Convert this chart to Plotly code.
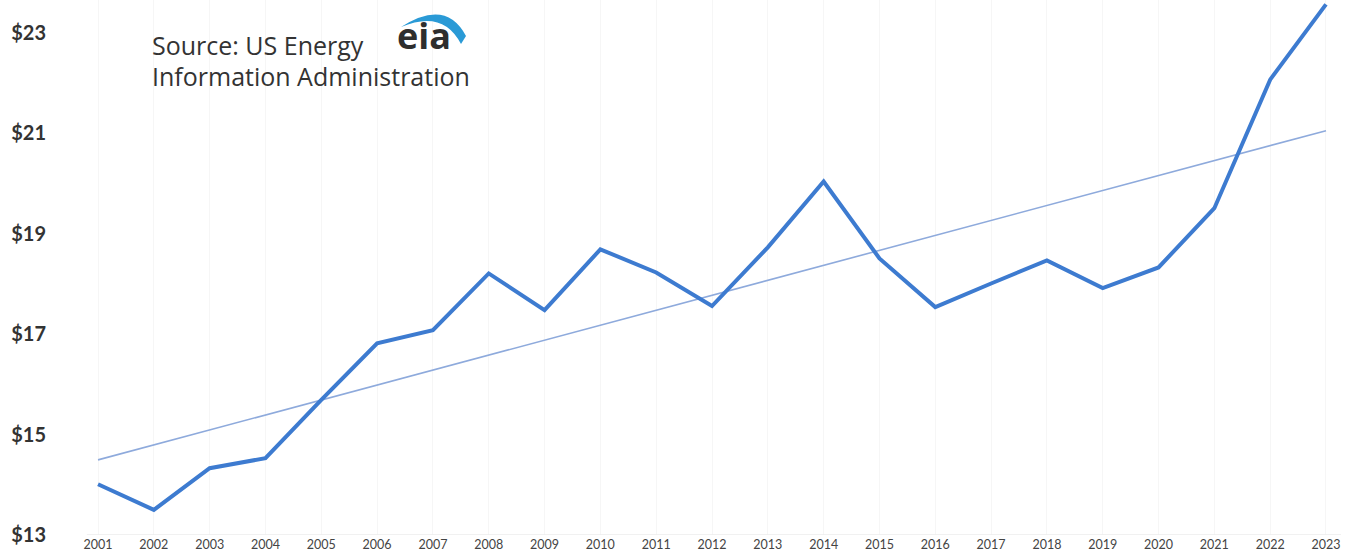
import numpy as np
import plotly.graph_objects as go

years = list(range(2001, 2024))
prices = [14.01, 13.50, 14.33, 14.53, 15.69, 16.82, 17.08, 18.21, 17.48, 18.69,
          18.23, 17.56, 18.73, 20.04, 18.51, 17.54, 18.01, 18.47, 17.92, 18.33,
          19.51, 22.07, 23.57]
ytick_vals = [13, 15, 17, 19, 21, 23]
ytick_text = ["$13", "$15", "$17", "$19", "$21", "$23"]

# linear trend line (least squares fit of the series)
coef = np.polyfit(years, prices, 1)
trend = [coef[0] * y + coef[1] for y in years]

W, H = 1361, 560
ML, MR, MT, MB = 70, 20, 0, 25
pw = W - ML - MR
ph = H - MT - MB

def px(x):
    return (x - ML) / pw

def py(y):
    return 1 - (y - MT) / ph

fig = go.Figure()
fig.add_trace(go.Scatter(x=years, y=trend, mode="lines",
                         line=dict(color="#8eaadc", width=1.6),
                         hoverinfo="skip", showlegend=False))
fig.add_trace(go.Scatter(x=years, y=prices, mode="lines",
                         line=dict(color="#3d7bd0", width=4),
                         showlegend=False, cliponaxis=False))

fig.update_layout(
    width=W, height=H,
    margin=dict(l=ML, r=MR, t=MT, b=MB, autoexpand=False),
    paper_bgcolor="white", plot_bgcolor="white",
    xaxis=dict(range=[2000.498, 2023.269], tickmode="array", tickvals=years,
               ticktext=[str(y) for y in years], showgrid=True,
               gridcolor="#f6f6f6", gridwidth=1, zeroline=False,
               showline=False, ticks="", automargin=False,
               tickfont=dict(family="Lato", size=12.5, color="#444444")),
    yaxis=dict(range=[13, 23.657], tickmode="array", tickvals=ytick_vals,
               ticktext=ytick_text, showgrid=False, zeroline=False,
               showline=False, ticks="", ticklabelstandoff=23, automargin=False,
               tickfont=dict(family="Lato", size=20, color="#333333", weight="bold")),
    font=dict(family="Lato"),
)
# faint baseline
fig.add_shape(type="line", xref="x", yref="y", x0=2000.8, x1=2023.4, y0=13, y1=13,
              line=dict(color="#ececec", width=1.5))

fig.add_annotation(x=px(150), y=py(45), xref="paper", yref="paper",
                   text="Source: US Energy", showarrow=False, xanchor="left",
                   yanchor="middle",
                   font=dict(family="Open Sans", size=25, color="#333333"))
fig.add_annotation(x=px(150), y=py(76), xref="paper", yref="paper",
                   text="Information Administration", showarrow=False,
                   xanchor="left", yanchor="middle",
                   font=dict(family="Open Sans", size=25, color="#333333"))
fig.add_annotation(x=px(395), y=py(35), xref="paper", yref="paper",
                   text="<b>eia</b>", showarrow=False, xanchor="left",
                   yanchor="middle",
                   font=dict(family="Open Sans", size=36, color="#2e2e2e"))
# logo arc (pixel coordinates on the page)
fig.add_shape(type="path", xref="paper", yref="paper",
              path=f"M {px(401)},{py(27)} Q {px(446)},{py(-2)} {px(466)},{py(36)} "
                   f"L {px(461)},{py(44)} Q {px(443)},{py(9)} {px(401)},{py(27)} Z",
              fillcolor="#2a9ad6", line=dict(width=0))

fig.write_html("out.html",
               config={"displayModeBar": False},
               post_script="document.body.style.margin='0';"
                           "document.body.style.overflow='hidden';")
